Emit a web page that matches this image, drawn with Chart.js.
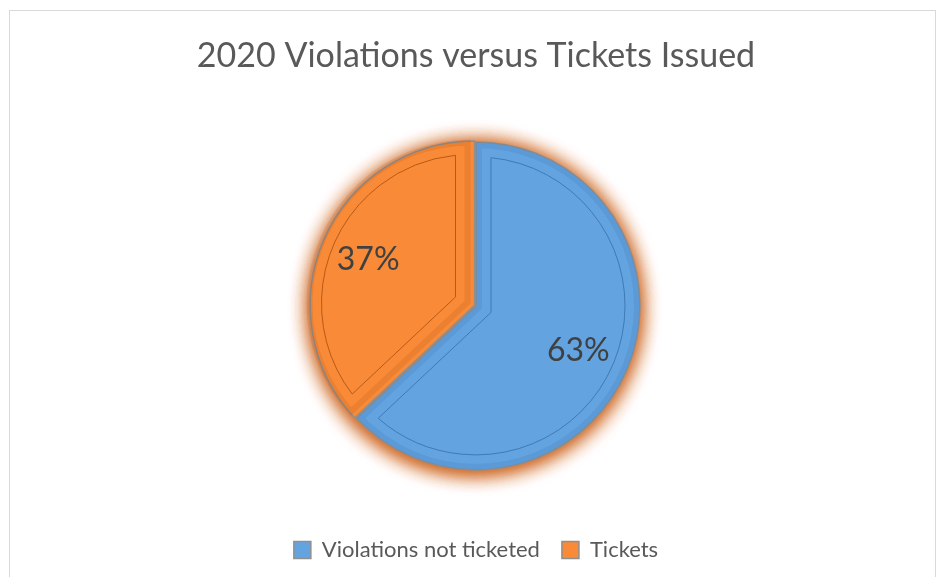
<!DOCTYPE html>
<html>
<head>
<meta charset="utf-8">
<script src="https://cdn.jsdelivr.net/npm/chart.js@4"></script>
<style>
  html, body { margin: 0; padding: 0; background: #fff; }
  #wrap { position: relative; width: 942px; height: 577px; overflow: hidden; }
  #marco { position: absolute; left: 9px; top: 10px; width: 927px; height: 600px;
           border: 1.5px solid #d9d9d9; box-sizing: border-box; }
  canvas { position: absolute; left: 0; top: 0; }
</style>
</head>
<body>
<div id="wrap">
  <div id="marco"></div>
  <canvas id="grafico" width="942" height="577"></canvas>
</div>
<script>
const categorias = ['Violations not ticketed', 'Tickets'];
const porcentajes = [63, 37];
const colores = ['#62a3e0', '#f88a38'];
const titulo = '2020 Violations versus Tickets Issued';

// brillo naranja alrededor del pastel
const pluginBrillo = {
    id: 'brillo',
    beforeDatasetsDraw(chart) {
        const arco = chart.getDatasetMeta(0).data[0];
        if (!arco) return;
        const ctx = chart.ctx;
        ctx.save();
        ctx.shadowColor = 'rgba(205, 100, 30, 1)';
        ctx.shadowBlur = 22;
        ctx.fillStyle = '#d9783a';
        for (let k = 0; k < 3; k++) {
            ctx.beginPath();
            ctx.arc(arco.x - 1, arco.y + 2, arco.outerRadius - 2, 0, Math.PI * 2);
            ctx.fill();
        }
        ctx.restore();
    }
};

// linea interior de bisel y etiquetas de porcentaje
const pluginBisel = {
    id: 'bisel',
    afterDatasetsDraw(chart) {
        const ctx = chart.ctx;
        const meta = chart.getDatasetMeta(0);
        meta.data.forEach((arco, i) => {
            const p = arco.getProps(['x', 'y', 'startAngle', 'endAngle', 'outerRadius']);
            const medio = (p.startAngle + p.endAngle) / 2;
            const desp = arco.options.offset || 0;
            const cx = p.x + Math.cos(medio) * desp;
            const cy = p.y + Math.sin(medio) * desp;
            const ins = 15;
            const r = p.outerRadius - ins;
            const sep = ins / r;
            const d = ins / Math.sin((p.endAngle - p.startAngle) / 2);

            ctx.save();
            // sombra del borde
            ctx.beginPath();
            ctx.moveTo(cx, cy);
            ctx.arc(cx, cy, p.outerRadius, p.startAngle, p.endAngle);
            ctx.closePath();
            ctx.clip();
            ctx.lineWidth = 12;
            ctx.strokeStyle = i === 0 ? 'rgba(40, 90, 150, 0.12)' : 'rgba(150, 60, 0, 0.12)';
            ctx.beginPath();
            ctx.moveTo(cx, cy);
            ctx.arc(cx, cy, p.outerRadius, p.startAngle, p.endAngle);
            ctx.closePath();
            ctx.stroke();
            ctx.restore();

            ctx.save();
            ctx.strokeStyle = i === 0 ? '#3f7bb5' : '#b85a18';
            ctx.lineWidth = 1;
            ctx.beginPath();
            ctx.moveTo(cx + Math.cos(medio) * d, cy + Math.sin(medio) * d);
            ctx.arc(cx, cy, r, p.startAngle + sep, p.endAngle - sep);
            ctx.closePath();
            ctx.stroke();
            ctx.restore();

            // etiqueta
            const lx = cx + Math.cos(medio) * p.outerRadius * 0.68;
            const ly = cy + Math.sin(medio) * p.outerRadius * 0.68;
            ctx.save();
            ctx.fillStyle = '#404040';
            ctx.font = '32px Lato';
            ctx.textAlign = 'center';
            ctx.textBaseline = 'middle';
            ctx.fillText(chart.data.datasets[0].data[i] + '%', lx, ly);
            ctx.restore();
        });
    }
};

new Chart(document.getElementById('grafico'), {
    type: 'pie',
    data: {
        labels: categorias,
        datasets: [{
            data: porcentajes,
            backgroundColor: colores,
            borderColor: '#8f8f8f',
            borderWidth: 1.5,
            offset: [0, 6]
        }]
    },
    options: {
        responsive: false,
        animation: false,
        radius: 164,
        layout: { padding: { left: 10, right: 0, top: 0, bottom: 6 } },
        plugins: {
            title: {
                display: true,
                text: titulo,
                color: '#595959',
                font: { family: 'Lato', size: 34, weight: 'normal' },
                padding: { top: 36, bottom: 18 }
            },
            legend: {
                position: 'bottom',
                labels: {
                    color: '#595959',
                    font: { family: 'Lato', size: 22 },
                    boxWidth: 17,
                    boxHeight: 17,
                    padding: 22
                }
            },
            tooltip: { enabled: false }
        }
    },
    plugins: [pluginBrillo, pluginBisel]
});
</script>
</body>
</html>
